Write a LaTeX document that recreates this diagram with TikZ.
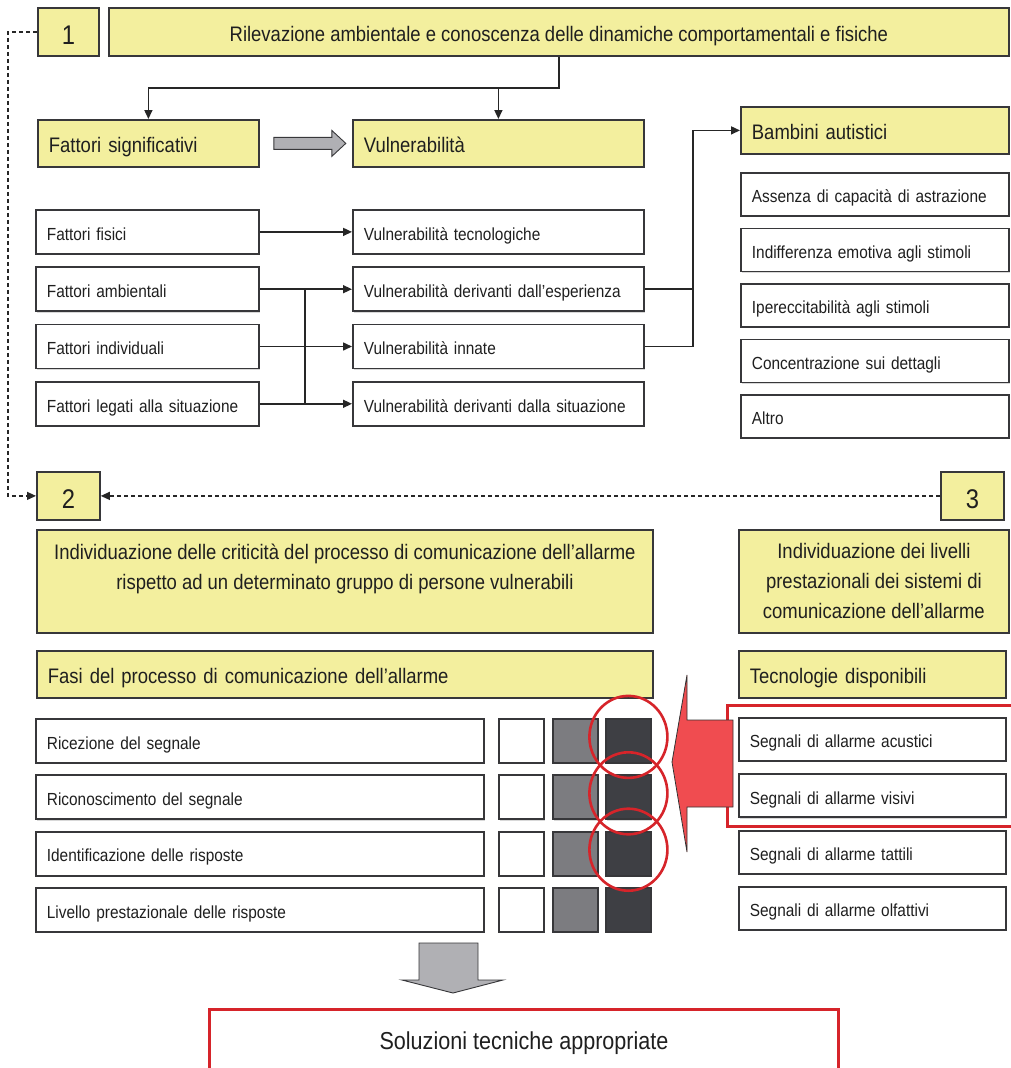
\documentclass[tikz,border=0pt]{standalone}
\usepackage{fontspec}
\setmainfont{Liberation Sans}[FakeStretch=0.88]
\usetikzlibrary{arrows.meta, calc, shadows}
\definecolor{boxY}{RGB}{243,239,158}
\definecolor{boxL}{RGB}{55,55,58}
\definecolor{sqG}{RGB}{124,124,128}
\definecolor{sqD}{RGB}{62,63,68}
\definecolor{alR}{RGB}{214,36,42}
\definecolor{arR}{RGB}{240,76,80}
\definecolor{arG}{RGB}{176,176,180}
\tikzset{
  fbox/.style={draw=boxL, line width=1.8pt, fill=white, text=black!88, anchor=north west,
    drop shadow={shadow xshift=1.3pt, shadow yshift=-1.3pt, fill=black!30}},
  hdrm/.style={font=\fontsize{21}{30}\selectfont},
  hdr/.style={hdrm, text height=19.5pt, text depth=0.5pt},
  sml/.style={font=\fontsize{17.5}{22}\selectfont, text height=17pt, text depth=0.5pt},
  num/.style={font=\fontsize{27}{30}\selectfont, text height=25pt, text depth=0.5pt},
  lbox/.style={fbox, minimum width=#1, text width=#1-22pt,
    inner xsep=11pt, inner ysep=0pt, align=left},
  cbox/.style={fbox, minimum width=#1, inner sep=0pt, align=center},
  sq/.style={fbox, minimum width=45pt, minimum height=44pt, inner sep=0pt},
  ln/.style={line width=1.5pt, draw=black!85},
  arr/.style={ln, -{Triangle[length=9pt,width=8pt]}},
  darr/.style={arr, line width=1.2pt, dash pattern=on 4pt off 3pt}
}
\begin{document}
\begin{tikzpicture}[x=1pt, y=-1pt]
\useasboundingbox (0,0) rectangle (1011,1068);
% step 1
\node[cbox=61pt, minimum height=48pt, fill=boxY, num] (n1) at (37,7) {1};
\node[cbox=900pt, minimum height=48pt, fill=boxY, hdr] (title) at (108,7)
  {Rilevazione ambientale e conoscenza delle dinamiche comportamentali e fisiche};
\node[lbox=221pt, minimum height=47pt, fill=boxY, hdr] (fsig) at (37,119) {Fattori significativi};
\node[lbox=291pt, minimum height=47pt, fill=boxY, hdr] (vul) at (352,119) {Vulnerabilità};
\node[lbox=268pt, minimum height=47pt, fill=boxY, hdr] (bam) at (740,106) {Bambini autistici};
\draw[arr] (title.south) -- ++(0,31) coordinate (t1) -| (fsig.north);
\draw[arr] (t1 -| vul.north) -- (vul.north);
% grey block arrow
\begin{scope}[shift={(fsig.east)}]
\draw[boxL, line width=0.9pt, fill=arG] (14,-6) -- (72,-6) -- (72,-13) -- (86,0)
  -- (72,13) -- (72,6) -- (14,6) -- cycle;
\end{scope}
% factors and vulnerabilities
\foreach \i/\t in {1/Fattori fisici, 2/Fattori ambientali, 3/Fattori individuali,
    4/Fattori legati alla situazione}
  \node[lbox=223pt, minimum height=44pt, sml] (fat\i) at (35,{209+57.3*(\i-1)}) {\t};
\foreach \i/\t in {1/Vulnerabilità tecnologiche, 2/Vulnerabilità derivanti dall’esperienza,
    3/Vulnerabilità innate, 4/Vulnerabilità derivanti dalla situazione}
  \node[lbox=291pt, minimum height=44pt, sml] (vul\i) at (352,{209+57.3*(\i-1)}) {\t};
\foreach \i/\t in {1/Assenza di capacità di astrazione, 2/Indifferenza emotiva agli stimoli,
    3/Ipereccitabilità agli stimoli, 4/Concentrazione sui dettagli, 5/Altro}
  \node[lbox=268pt, minimum height=43pt, sml] (aut\i) at (740,{172+55.5*(\i-1)}) {\t};
\draw[arr] (fat1) -- (vul1);
\draw[arr] (fat3) -- (vul3);
\draw[ln] (fat2.east) -- ++(45,0) coordinate (b2);
\draw[ln] (fat4.east) -- ++(45,0) coordinate (b4);
\draw[ln] (b2) -- (b4);
\draw[arr] (b2) -- (vul2.west);
\draw[arr] (b4) -- (vul4.west);
\draw[ln] (vul2.east) -- ++(48,0) coordinate (r2);
\draw[arr] (vul3.east) -- ++(48,0) |- (bam.west);
% steps 2 and 3
\node[cbox=63pt, minimum height=48pt, fill=boxY, num] (n2) at (36,471) {2};
\node[cbox=63pt, minimum height=48pt, fill=boxY, num] (n3) at (940,471) {3};
\draw[darr] (n1.west) -- ++(-29,0) |- (n2.west);
\draw[darr] (n3.west) -- (n2.east);
\node[cbox=616pt, minimum height=103pt, fill=boxY, hdrm] (crit) at (36,529)
  {Individuazione delle criticità del processo di comunicazione dell’allarme\\
   rispetto ad un determinato gruppo di persone vulnerabili\\\mbox{}};
\node[cbox=270pt, minimum height=103pt, fill=boxY, hdrm] (liv) at (738,529)
  {Individuazione dei livelli\\prestazionali dei sistemi di\\comunicazione dell’allarme};
\node[lbox=616pt, minimum height=47pt, fill=boxY, hdr] (fasi) at (36,650)
  {Fasi del processo di comunicazione dell’allarme};
\node[lbox=267pt, minimum height=47pt, fill=boxY, hdr] (tec) at (738,650) {Tecnologie disponibili};
% phases and levels
\foreach \i/\t in {1/Ricezione del segnale, 2/Riconoscimento del segnale,
    3/Identificazione delle risposte, 4/Livello prestazionale delle risposte}
  {\node[lbox=448pt, minimum height=44pt, sml] (fas\i) at (35,{718+56.4*(\i-1)}) {\t};
   \node[sq] (sw\i) at (498,{718+56.4*(\i-1)}) {};
   \node[sq, fill=sqG] (sg\i) at (552,{718+56.4*(\i-1)}) {};
   \node[sq, fill=sqD] (sd\i) at (605,{718+56.4*(\i-1)}) {};}
\foreach \i/\t in {1/Segnali di allarme acustici, 2/Segnali di allarme visivi,
    3/Segnali di allarme tattili, 4/Segnali di allarme olfattivi}
  \node[lbox=267pt, minimum height=43pt, sml] (seg\i) at (738,{717+56.4*(\i-1)}) {\t};
% red highlights
\draw[alR, line width=3pt] (727,705) rectangle (1025,826);
\draw[black!80, line width=0.8pt, fill=arR] (733,720) -- (687,720) -- (687,675) -- (672,762)
  -- (687,852) -- (687,807) -- (733,807) -- cycle;
\foreach \i in {1,2,3}
  \draw[alR, line width=2.6pt] ($(sd\i.center)+(0,-4)$) ellipse [x radius=39pt, y radius=41pt];
% result
\draw[boxL, line width=0.9pt, fill=arG] (419,943) -- (478,943) -- (478,980) -- (503,980)
  -- (453,993) -- (402,980) -- (419,980) -- cycle;
\node[draw=alR, line width=3pt, fill=white, anchor=north west, minimum width=629pt,
  minimum height=67pt, font=\fontsize{24.5}{28}\selectfont, text=black!88] (sol) at (208,1008)
  {Soluzioni tecniche appropriate};
\end{tikzpicture}
\end{document}
